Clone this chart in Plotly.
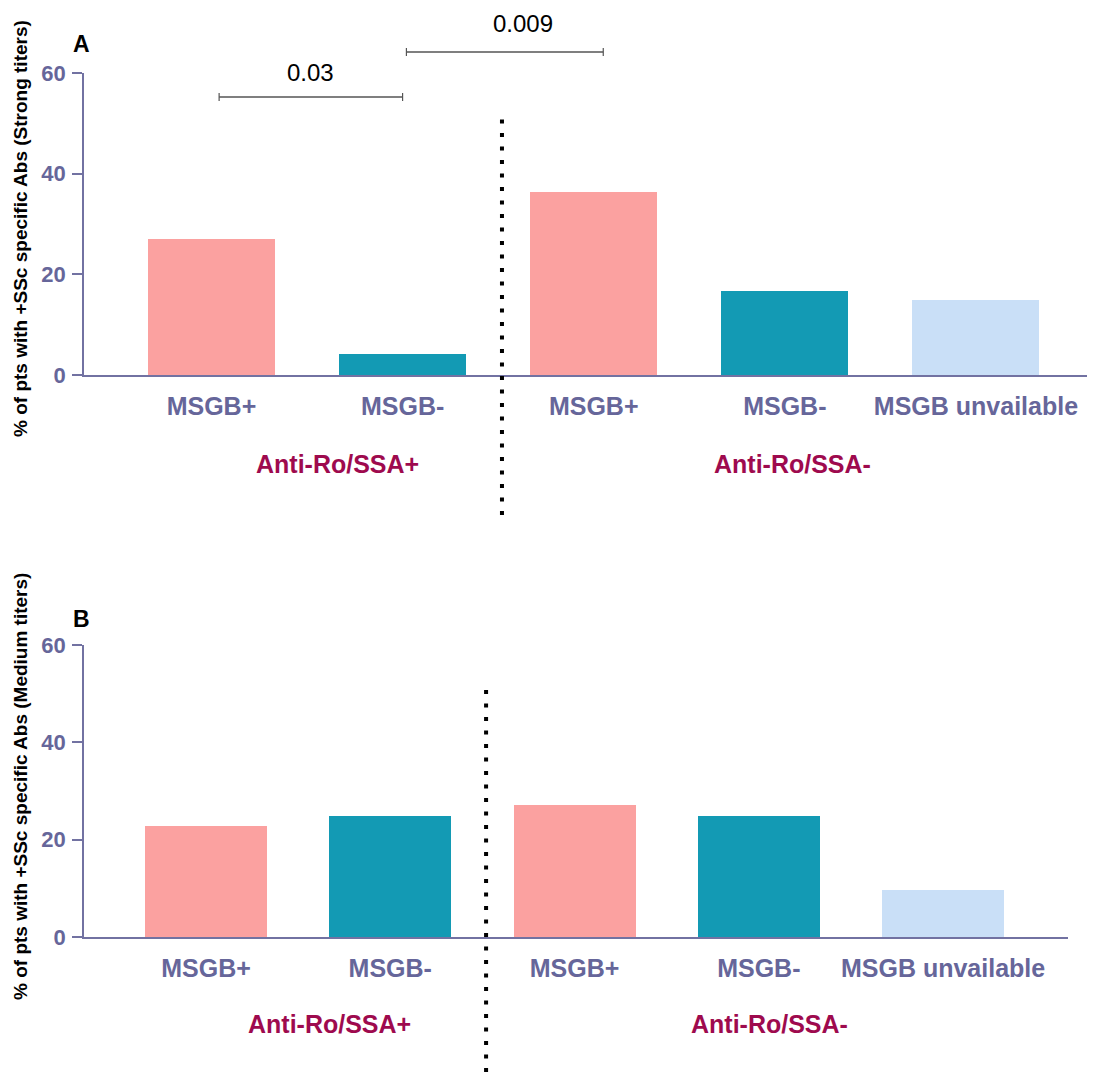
import plotly.graph_objects as go

# ---- data ----
categories = ["MSGB+", "MSGB-", "MSGB+", "MSGB-", "MSGB unvailable"]
groups = ["Anti-Ro/SSA+", "Anti-Ro/SSA-"]
strong_values = [27.0, 4.2, 36.4, 16.7, 14.9]
medium_values = [22.8, 24.9, 27.2, 24.9, 9.7]
bar_colors = ["#FBA1A0", "#139AB4", "#FBA1A0", "#139AB4", "#C9DFF7"]
y_ticks = [0, 20, 40, 60]
pvalues = ["0.03", "0.009"]

FONT = "Liberation Sans, Arial, sans-serif"
AXIS_COL = "#7272a2"
TICK_COL = "#66669a"
GROUP_COL = "#9e0a4e"
W, H = 1095, 1072
OFF = 8  # page body margin

xpos = list(range(len(categories)))

fig = go.Figure()
fig.add_trace(go.Bar(x=xpos, y=strong_values, marker=dict(color=bar_colors, line=dict(width=0)),
                     width=0.665, xaxis="x", yaxis="y", showlegend=False))
fig.add_trace(go.Bar(x=xpos, y=medium_values, marker=dict(color=bar_colors, line=dict(width=0)),
                     width=0.662, xaxis="x2", yaxis="y2", showlegend=False))

def py(p):
    return 1 - (p - OFF) / H

def px(p):
    return (p - OFF) / W

xaxis_common = dict(
    tickmode="array", tickvals=xpos, ticktext=categories,
    showline=True, linecolor=AXIS_COL, linewidth=1.5,
    ticks="", showgrid=False, zeroline=False, automargin=False,
    tickfont=dict(family=FONT, size=25, color=TICK_COL, weight="bold"),
    ticklabelstandoff=8,
)
yaxis_common = dict(
    range=[0, 60], tickmode="array", tickvals=y_ticks,
    showline=True, linecolor=AXIS_COL, linewidth=1.5,
    ticks="outside", ticklen=10, tickcolor=AXIS_COL, tickwidth=1.5,
    showgrid=False, zeroline=False, automargin=False,
    tickfont=dict(family=FONT, size=22, color=TICK_COL, weight="bold"),
    ticklabelstandoff=2,
)

fig.update_layout(
    width=W, height=H,
    margin=dict(l=0, r=0, t=0, b=0, autoexpand=False),
    paper_bgcolor="white", plot_bgcolor="white",
    bargap=0, showlegend=False,
    xaxis=dict(domain=[px(84), px(1095)], range=[-0.667, 4.623], anchor="y", **xaxis_common),
    yaxis=dict(domain=[py(375), py(73)], anchor="x", **yaxis_common),
    xaxis2=dict(domain=[px(84), px(1068)], range=[-0.662, 4.678], anchor="y2", **xaxis_common),
    yaxis2=dict(domain=[py(937), py(645)], anchor="x2", **yaxis_common),
)

annotations = []
shapes = []
C = dict(xanchor="center", yanchor="middle", showarrow=False)

# panel letters
annotations.append(dict(text="A", x=px(81), y=py(44), xref="paper", yref="paper",
                        font=dict(family=FONT, size=23, color="black", weight="bold"), **C))
annotations.append(dict(text="B", x=px(81), y=py(619), xref="paper", yref="paper",
                        font=dict(family=FONT, size=23, color="black", weight="bold"), **C))

# y-axis titles
annotations.append(dict(text="% of pts with +SSc specific Abs (Strong titers)", textangle=-90,
                        x=px(20), y=py(229), xref="paper", yref="paper",
                        font=dict(family=FONT, size=19, color="black", weight="bold"), **C))
annotations.append(dict(text="% of pts with +SSc specific Abs (Medium titers)", textangle=-90,
                        x=px(20), y=py(787), xref="paper", yref="paper",
                        font=dict(family=FONT, size=19, color="black", weight="bold"), **C))

# group labels
for xr, ypx, gx in [("x", 464, [0.66, 3.04]), ("x2", 1024, [0.67, 3.06])]:
    for g, xv in zip(groups, gx):
        annotations.append(dict(text=g, x=xv, y=py(ypx), xref=xr, yref="paper",
                                font=dict(family=FONT, size=25, color=GROUP_COL, weight="bold"), **C))

# dotted separators
for xr, y0, y1 in [("x", 515, 116), ("x2", 1072, 688)]:
    shapes.append(dict(type="line", xref=xr, yref="paper", x0=1.52, x1=1.52,
                       y0=py(y0), y1=py(y1), line=dict(color="black", width=4, dash="4px,9.5px")))

# significance brackets (panel A): x0, x1, bracket y(px), text x, text y(px), label
brackets = [(0.04, 1.0, 97, 0.52, 73, pvalues[0]), (1.02, 2.05, 52, 1.63, 23, pvalues[1])]
for x0, x1, ypx, tx, tpx, label in brackets:
    shapes.append(dict(type="line", xref="x", yref="paper", x0=x0, x1=x1, y0=py(ypx), y1=py(ypx),
                       line=dict(color="#555555", width=1.5)))
    for xe in (x0, x1):
        shapes.append(dict(type="line", xref="x", yref="paper", x0=xe, x1=xe,
                           y0=py(ypx - 4), y1=py(ypx + 4), line=dict(color="#555555", width=1.2)))
    annotations.append(dict(text=label, x=tx, y=py(tpx), xref="x", yref="paper",
                            font=dict(family=FONT, size=24, color="black"), **C))

fig.update_layout(annotations=annotations, shapes=shapes)
fig.write_html("out.html")
